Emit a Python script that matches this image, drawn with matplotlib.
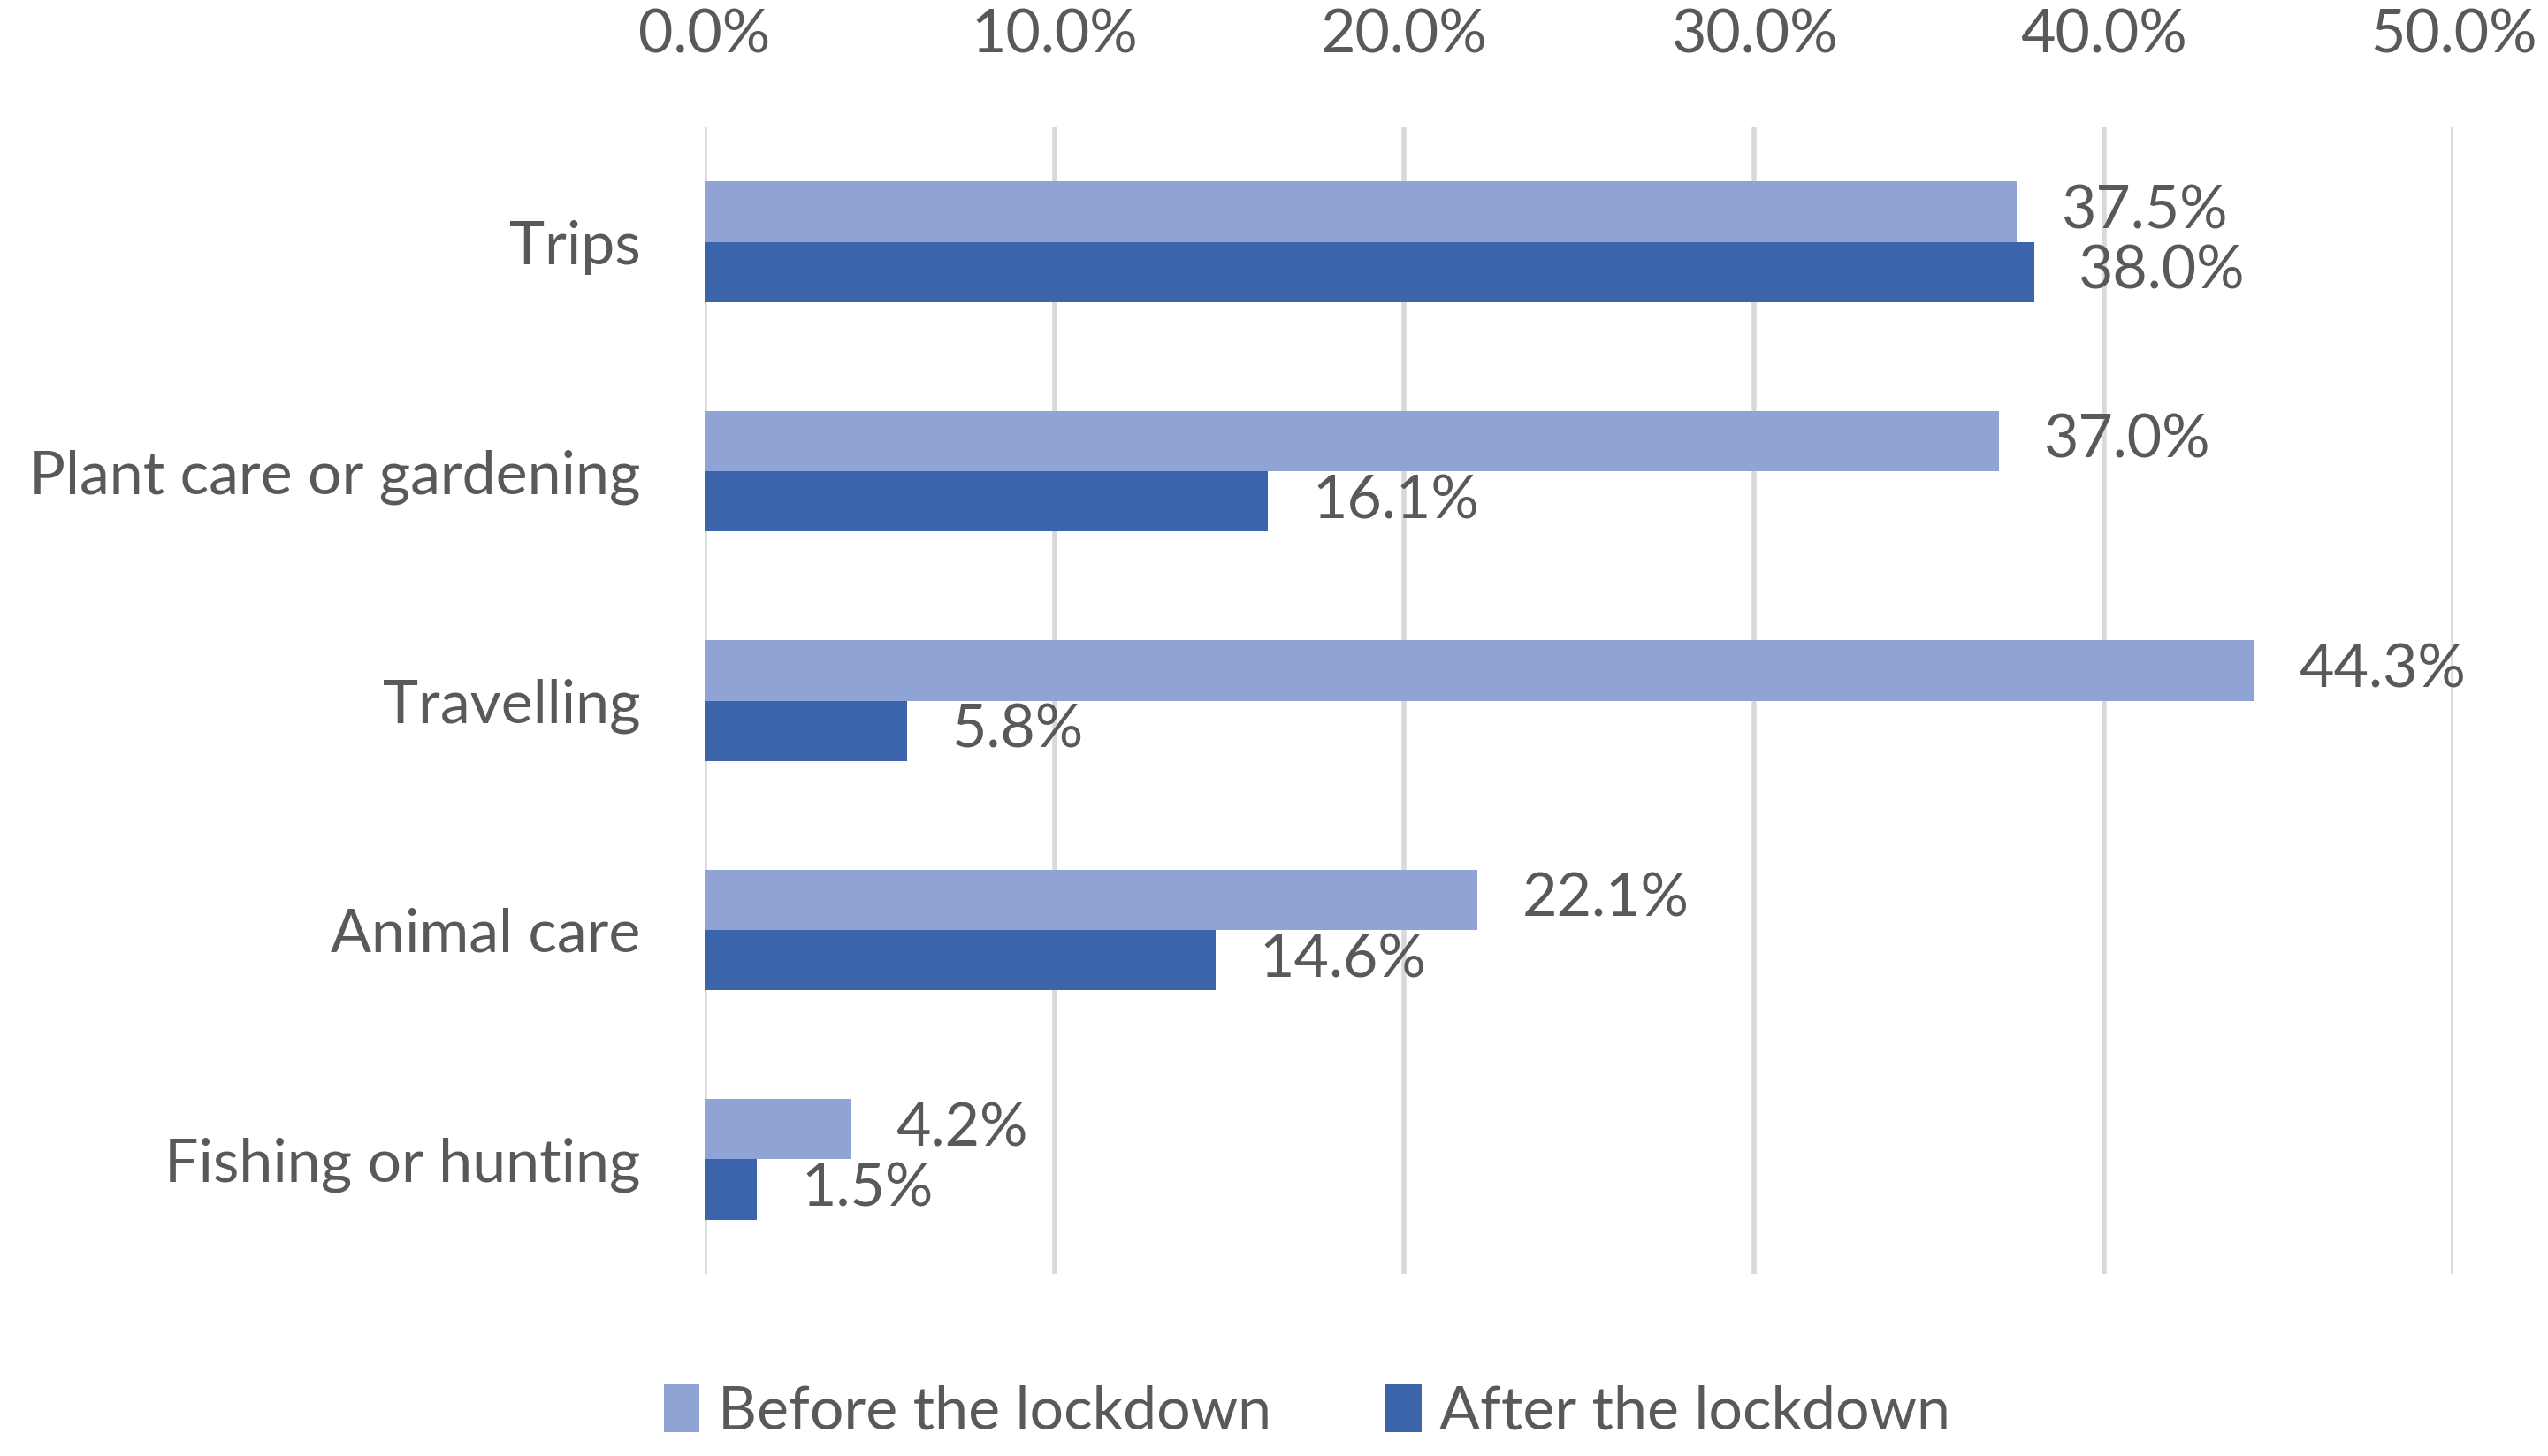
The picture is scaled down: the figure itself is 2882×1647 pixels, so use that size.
import matplotlib.pyplot as plt
import numpy as np
from matplotlib.ticker import PercentFormatter

categories = ["Trips", "Plant care or gardening", "Travelling", "Animal care", "Fishing or hunting"]
before = [37.5, 37.0, 44.3, 22.1, 4.2]
after = [38.0, 16.1, 5.8, 14.6, 1.5]

light = "#8FA3D4"
dark = "#3C64AB"
grey = "#595959"
fs = 24.5

plt.rcParams['font.family'] = ['Lato', 'DejaVu Sans']

fig = plt.figure(figsize=(14.41, 8.235), dpi=200)
ax = fig.add_axes([0.2765, 0.125, 0.6865, 0.7876])

y = np.arange(len(categories))
h = 0.263
b1 = ax.barh(y - h / 2, before, height=h, color=light, label="Before the lockdown", zorder=3)
b2 = ax.barh(y + h / 2, after, height=h, color=dark, label="After the lockdown", zorder=3)

for bars, vals in [(b1, before), (b2, after)]:
    for bar, v in zip(bars, vals):
        ax.annotate(f"{v:.1f}%", (bar.get_width(), bar.get_y() + bar.get_height() / 2),
                    xytext=(18, 0), textcoords="offset points", va="center", ha="left",
                    fontsize=fs, color=grey)

ax.set_xlim(0, 50)
ax.set_ylim(len(categories) - 0.5, -0.5)
ax.set_xticks(np.arange(0, 51, 10))
ax.xaxis.set_major_formatter(PercentFormatter(decimals=1))
ax.xaxis.tick_top()
ax.set_yticks(y)
ax.set_yticklabels(categories)
ax.tick_params(axis="x", length=0, pad=26, labelsize=fs, labelcolor=grey)
ax.tick_params(axis="y", length=0, pad=26, labelsize=fs, labelcolor=grey)
ax.grid(axis="x", color="#d9d9d9", linewidth=2, zorder=0)
for s in ax.spines.values():
    s.set_visible(False)

fig.legend(handles=[b1, b2], loc="lower center", bbox_to_anchor=(0.513, -0.026), ncol=2,
           frameon=False, fontsize=fs, labelcolor=grey, handlelength=0.6, handleheight=0.85,
           handletextpad=0.3, columnspacing=1.9)

fig.savefig("out.png", dpi=200)
